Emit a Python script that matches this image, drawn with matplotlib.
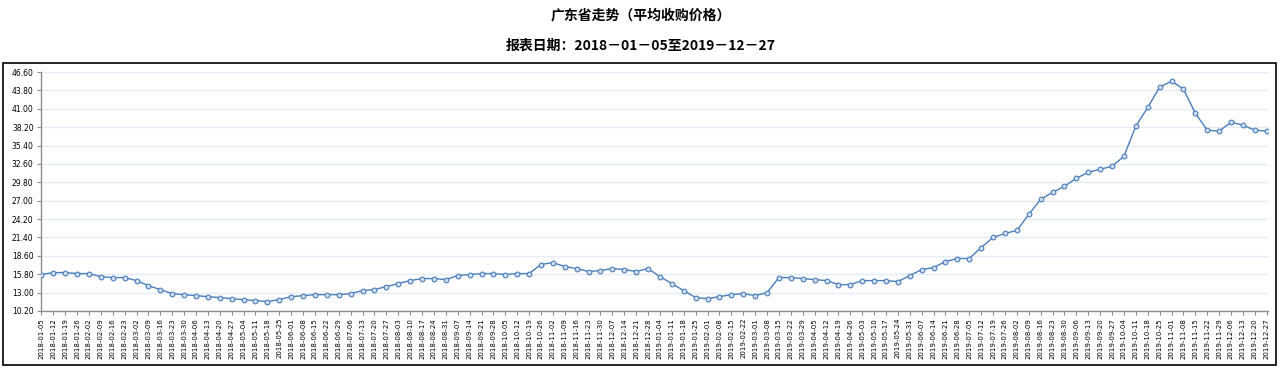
import numpy as np
import pandas as pd
import matplotlib
matplotlib.use("Agg")
import matplotlib.pyplot as plt
from matplotlib.patches import Rectangle

# 报表日期（每周五）
dates = pd.date_range("2018-01-05", "2019-12-27", freq="7D").strftime("%Y-%m-%d").tolist()

# 平均收购价格
prices_2018 = [15.75, 16.05, 16.05, 15.9, 15.9, 15.44, 15.29, 15.29, 14.83, 14.07,
               13.46, 12.85, 12.69, 12.54, 12.39, 12.24, 12.08, 11.93, 11.78, 11.63,
               11.93, 12.39, 12.54, 12.69, 12.69, 12.69, 12.85, 13.3, 13.46, 13.92,
               14.37, 14.83, 15.14, 15.14, 14.98, 15.6, 15.75, 15.9, 15.9, 15.75,
               15.9, 15.9, 17.28, 17.58, 16.97, 16.66, 16.21, 16.36, 16.66, 16.51,
               16.21, 16.66]
prices_2019 = [15.44, 14.37, 13.3, 12.24, 12.08, 12.39, 12.69, 12.85, 12.54, 13.0,
               15.29, 15.29, 15.14, 14.98, 14.83, 14.22, 14.22, 14.83, 14.83, 14.83,
               14.68, 15.6, 16.51, 16.82, 17.73, 18.19, 18.19, 19.87, 21.4, 22.01,
               22.47, 24.91, 27.2, 28.27, 29.19, 30.41, 31.32, 31.78, 32.24, 33.77,
               38.35, 41.2, 44.3, 45.22, 44.0, 40.33, 37.74, 37.58, 38.96, 38.5,
               37.74, 37.58]
prices = prices_2018 + prices_2019

W, H = 1281, 370
fig = plt.figure(figsize=(W / 100, H / 100), dpi=100)
ax = fig.add_axes([40.5 / W, 1 - 311 / H, (1268 - 40.5) / W, (311 - 72) / H])

x = np.arange(len(prices))
ax.plot(x, prices, color="#4a7ebb", lw=1, marker="o", markersize=3.4,
        mfc="#d3e0f0", mec="#4a7ebb", mew=0.8, zorder=3)

yticks = np.linspace(10.2, 46.6, 14)
ax.set_ylim(10.2, 46.6)
ax.set_yticks(yticks)
ax.set_yticklabels([f"{v:.2f}" for v in yticks], fontsize=5.5)
ax.set_xlim(-0.07, len(prices) - 1 + 0.11)
ax.set_xticks(x)
ax.set_xticklabels(dates, rotation=90, fontsize=5)
ax.grid(axis="y", color="#e4ebf4", lw=1)
ax.set_axisbelow(True)

for s in ["top", "right"]:
    ax.spines[s].set_visible(False)
for s in ["left", "bottom"]:
    ax.spines[s].set_color("#8c8c8c")
    ax.spines[s].set_linewidth(1)
ax.tick_params(axis="both", length=3, width=0.8, color="#8c8c8c", pad=2)

# 外框
fig.patches.append(Rectangle((3 / W, 1 - 365 / H), 1273 / W, 302 / H,
                             transform=fig.transFigure, fill=False,
                             edgecolor="black", lw=1.2))

cjk = ["Noto Sans CJK SC", "DejaVu Sans"]
fig.text(0.5, 1 - 15 / H, "广东省走势（平均收购价格）", ha="center", va="center",
         fontsize=10, fontweight="bold", family=cjk)
fig.text(0.5, 1 - 46 / H, "报表日期：2018－01－05至2019－12－27", ha="center",
         va="center", fontsize=10, fontweight="bold", family=cjk)

fig.savefig("out.png", dpi=100)
